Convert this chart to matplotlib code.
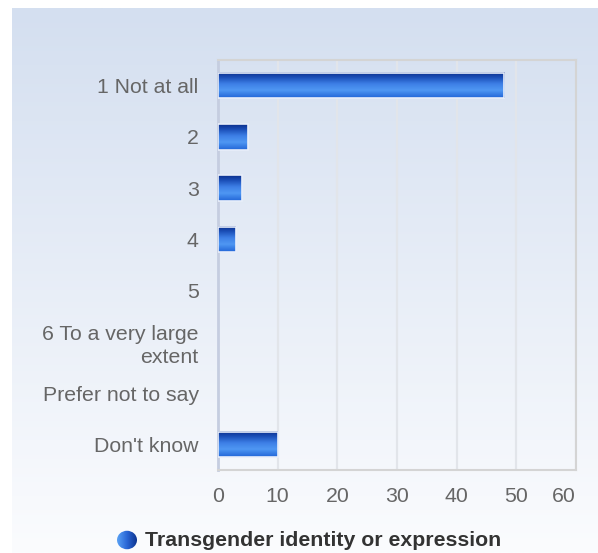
import numpy as np
import matplotlib
matplotlib.use("Agg")
import matplotlib.pyplot as plt
from matplotlib.colors import LinearSegmentedColormap
from matplotlib.patches import Circle

plt.rcParams['font.family'] = ['Liberation Sans', 'DejaVu Sans']

categories = ["1 Not at all", "2", "3", "4", "5", "6 To a very large\nextent",
              "Prefer not to say", "Don't know"]
values = [48, 5, 4, 3, 0, 0, 0, 10]
x_ticks = [0, 10, 20, 30, 40, 50, 60]
series_name = "Transgender identity or expression"

W, H = 598, 553
fig = plt.figure(figsize=(W / 100, H / 100), dpi=100)

# background panel with vertical gradient
bg = fig.add_axes([12 / W, 0, 1 - 12 / W, 1 - 8 / H], zorder=-10)
bg_cmap = LinearSegmentedColormap.from_list("bg", ["#fbfcfe", "#d4dff0"])
bg.imshow(np.linspace(0, 1, 256).reshape(-1, 1), cmap=bg_cmap, aspect="auto",
          extent=[0, 1, 0, 1], origin="lower")
bg.set_xlim(0, 1)
bg.set_ylim(0, 1)
bg.axis("off")

ax = fig.add_axes([218 / W, 1 - 470 / H, (576 - 218) / W, (470 - 60) / H])
ax.patch.set_alpha(0)

ypos = np.arange(len(categories))
bars = ax.barh(ypos, values, height=0.5, color="none", edgecolor="none")

# dark navy on top, light band below the middle, a bit darker at the bottom
bar_cmap = LinearSegmentedColormap.from_list(
    "bar", [(0.0, "#0c2f8c"), (0.2, "#1b4fb8"), (0.45, "#3d7fe6"),
            (0.7, "#4f97f3"), (1.0, "#2266d8")])
grad = np.linspace(0, 1, 64).reshape(-1, 1)
for b, v in zip(bars, values):
    if v <= 0:
        continue
    x0, y0 = b.get_x(), b.get_y()
    w, h = b.get_width(), b.get_height()
    ax.imshow(grad, cmap=bar_cmap, aspect="auto", origin="upper",
              extent=[x0, x0 + w, y0 + h, y0], zorder=3)
    ax.add_patch(plt.Rectangle((x0, y0), w, h, fill=False,
                               edgecolor="#e8eefa", linewidth=1.2, zorder=4))

ax.set_xlim(0, 60)
ax.set_ylim(len(categories) - 0.5, -0.5)
ax.set_xticks(x_ticks)
ax.set_yticks(ypos)
ax.set_yticklabels(categories, linespacing=1.3)
ax.grid(axis="x", color="#e2e5ea", linewidth=1.6, zorder=0)
ax.set_axisbelow(True)
ax.tick_params(axis="y", length=0, pad=14, labelsize=15.3, labelcolor="#666666")
ax.tick_params(axis="x", length=0, pad=12, labelsize=15.3, labelcolor="#666666")
for lab in ax.get_yticklabels():
    lab.set_horizontalalignment("right")
    lab.set_multialignment("right")
ax.get_xticklabels()[-1].set_horizontalalignment("right")

for side in ["top", "right", "bottom"]:
    ax.spines[side].set_color("#d4d4d4")
    ax.spines[side].set_linewidth(1.5)
ax.spines["left"].set_color("#c5cde0")
ax.spines["left"].set_linewidth(2)

# legend: gradient dot + bold label
dot_cmap = LinearSegmentedColormap.from_list("dot", ["#5aa2f5", "#2a66d6", "#0d3590"])
circ = Circle((127 / W, 1 - 540 / H), 10 / W, transform=fig.transFigure)
fig.patches.append(circ)
circ.set_facecolor("none")
circ.set_edgecolor("none")
img = bg.imshow(np.linspace(0, 1, 64).reshape(1, -1), cmap=dot_cmap, aspect="auto",
                extent=[(117 - 12) / (W - 12), (137 - 12) / (W - 12),
                        (H - 550) / (H - 8), (H - 530) / (H - 8)], zorder=5)
img.set_clip_path(circ)
fig.text(145 / W, 1 - 540 / H, series_name, fontsize=15.3, fontweight="bold",
         color="#333333", va="center", ha="left")

fig.savefig("out.png", dpi=100)
